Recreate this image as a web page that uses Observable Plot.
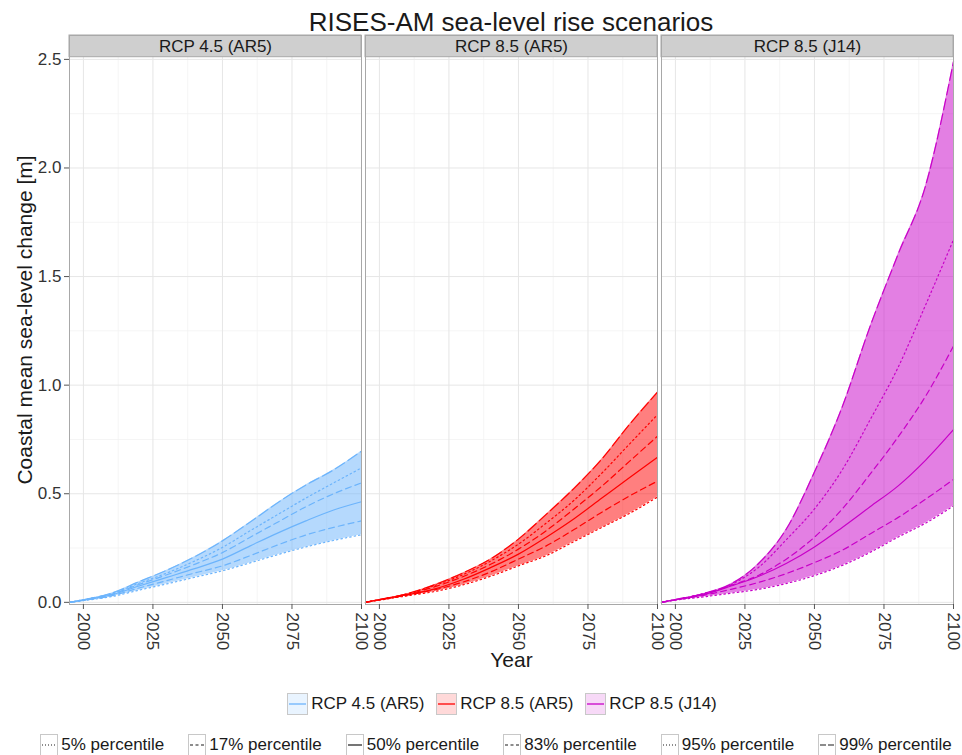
<!DOCTYPE html>
<html><head><meta charset="utf-8">
<script src="https://cdn.jsdelivr.net/npm/d3@7"></script>
<script src="https://cdn.jsdelivr.net/npm/@observablehq/plot@0.6"></script>
<style>
html,body{margin:0;padding:0;background:#fff;}
body{font-family:"Liberation Sans",Arial,Helvetica,sans-serif;width:962px;height:755px;overflow:hidden;color:#1a1a1a;}
#title{height:30px;box-sizing:border-box;padding-top:9px;padding-left:60px;text-align:center;font-size:26px;line-height:26px;white-space:nowrap;overflow:visible;}
#chart{height:655px;}
.legend{display:flex;justify-content:center;align-items:center;box-sizing:border-box;width:962px;white-space:nowrap;font-size:17px;}
#leg1{margin-top:8px;padding-left:42px;gap:12px;height:22px;}
#leg2{margin-top:19px;padding-left:30px;gap:24px;height:22px;}
.item{display:flex;align-items:center;flex:none;}
.item svg{margin-right:3px;display:block;}
</style></head><body>
<div id="title"></div>
<div id="chart"></div>
<div id="leg1" class="legend"></div>
<div id="leg2" class="legend"></div>
<script>
// ---------- data ----------
const titleText = "RISES-AM sea-level rise scenarios";
const yLabel = "Coastal mean sea-level change [m]";
const xLabel = "Year";
const scenarios = ["RCP 4.5 (AR5)", "RCP 8.5 (AR5)", "RCP 8.5 (J14)"];
const percentiles = ["5%", "17%", "50%", "83%", "95%", "99%"];
const years = [1995, 2000, 2010, 2020, 2030, 2040, 2050, 2060, 2070, 2080, 2090, 2100];
const xTicks = [2000, 2025, 2050, 2075, 2100];
const xMinor = [2012.5, 2037.5, 2062.5, 2087.5];
const yTicks = [0, 0.5, 1.0, 1.5, 2.0, 2.5];
const yMinor = [0.25, 0.75, 1.25, 1.75, 2.25];

// sea-level change [m] per percentile (rows: 5,17,50,83,95,99%)
const rcp45AR5 = [
  [0, 0.008, 0.026, 0.056, 0.085, 0.115, 0.145, 0.182, 0.220, 0.255, 0.285, 0.311],
  [0, 0.009, 0.030, 0.066, 0.100, 0.135, 0.168, 0.215, 0.265, 0.310, 0.345, 0.375],
  [0, 0.010, 0.034, 0.075, 0.115, 0.155, 0.199, 0.260, 0.320, 0.375, 0.425, 0.463],
  [0, 0.011, 0.037, 0.082, 0.127, 0.175, 0.229, 0.300, 0.370, 0.440, 0.500, 0.550],
  [0, 0.012, 0.040, 0.088, 0.135, 0.190, 0.253, 0.330, 0.405, 0.480, 0.550, 0.619],
  [0, 0.012, 0.042, 0.095, 0.148, 0.210, 0.283, 0.370, 0.460, 0.540, 0.610, 0.696]
];
const rcp85AR5 = [
  [0, 0.010, 0.030, 0.050, 0.080, 0.120, 0.168, 0.215, 0.280, 0.345, 0.410, 0.485],
  [0, 0.011, 0.033, 0.058, 0.093, 0.140, 0.199, 0.260, 0.335, 0.415, 0.490, 0.558],
  [0, 0.012, 0.035, 0.062, 0.105, 0.160, 0.222, 0.300, 0.385, 0.480, 0.575, 0.668],
  [0, 0.012, 0.037, 0.072, 0.118, 0.175, 0.245, 0.330, 0.430, 0.535, 0.650, 0.765],
  [0, 0.013, 0.039, 0.078, 0.127, 0.190, 0.268, 0.365, 0.470, 0.595, 0.730, 0.864],
  [0, 0.013, 0.040, 0.082, 0.135, 0.200, 0.291, 0.405, 0.525, 0.660, 0.820, 0.968]
];
const rcp85J14 = [
  [0, 0.010, 0.025, 0.042, 0.060, 0.087, 0.123, 0.170, 0.230, 0.300, 0.365, 0.444],
  [0, 0.011, 0.032, 0.060, 0.092, 0.133, 0.183, 0.240, 0.315, 0.390, 0.475, 0.566],
  [0, 0.012, 0.035, 0.075, 0.120, 0.180, 0.255, 0.345, 0.440, 0.535, 0.655, 0.795],
  [0, 0.012, 0.038, 0.078, 0.125, 0.200, 0.300, 0.430, 0.590, 0.760, 0.950, 1.180],
  [0, 0.013, 0.040, 0.082, 0.162, 0.290, 0.430, 0.610, 0.840, 1.080, 1.370, 1.670],
  [0, 0.013, 0.040, 0.085, 0.180, 0.340, 0.600, 0.900, 1.270, 1.600, 1.920, 2.490]
];

// ---------- styles ----------
const lineColors = ["#6cb4fc", "#ff0000", "#c800c8"];
const dashes = {"5%": "1.5,3", "17%": "6,4", "50%": null, "83%": "6,4", "95%": "1.5,3", "99%": "11,4"};
const keyDashes = {"5%": "1,2", "17%": "3,2.5", "50%": null, "83%": "3,2.5", "95%": "1,2", "99%": "6,2"};
const font = '"Liberation Sans", Arial, Helvetica, sans-serif';

// ---------- tidy tables ----------
const series = [rcp45AR5, rcp85AR5, rcp85J14];
const rows = [];
const bands = [];
series.forEach((s, i) => {
  s.forEach((arr, j) => arr.forEach((v, k) => rows.push({panel: scenarios[i], pct: percentiles[j], year: years[k], value: v})));
  years.forEach((y, k) => bands.push({panel: scenarios[i], year: y, lo: s[0][k], hi: s[5][k]}));
});

document.getElementById("title").textContent = titleText;

const yLo = -0.01, yTop = 2.51, yStrip = 2.61;
const x0 = years[0], x1 = years[years.length - 1];

const chart = Plot.plot({
  width: 962, height: 655,
  marginLeft: 69, marginRight: 9, marginTop: 5, marginBottom: 81,
  style: {fontFamily: font, background: "white", overflow: "visible", color: "#1a1a1a"},
  fx: {domain: scenarios, paddingInner: 0.0152, paddingOuter: 0, axis: null, label: null},
  x: {domain: [x0, x1]},
  y: {domain: [yLo, yStrip]},
  color: {domain: scenarios, range: lineColors},
  marks: [
    Plot.ruleX(xMinor, {x: d => d, y1: yLo, y2: yTop, stroke: "#f3f3f3", strokeWidth: 0.8}),
    Plot.ruleY(yMinor, {y: d => d, x1: x0, x2: x1, stroke: "#f3f3f3", strokeWidth: 0.8}),
    Plot.ruleX(xTicks, {x: d => d, y1: yLo, y2: yTop, stroke: "#e6e6e6", strokeWidth: 1}),
    Plot.ruleY(yTicks, {y: d => d, x1: x0, x2: x1, stroke: "#e6e6e6", strokeWidth: 1}),
    Plot.areaY(bands, {fx: "panel", x: "year", y1: "lo", y2: "hi", fill: "panel", fillOpacity: 0.5, curve: "monotone-x"}),
    ...percentiles.map(p => Plot.line(rows.filter(r => r.pct === p), {
      fx: "panel", x: "year", y: "value", z: "panel", stroke: "panel",
      strokeWidth: 1.2, strokeDasharray: dashes[p], curve: "monotone-x"
    })),
    Plot.rect(scenarios, {fx: d => d, x1: x0, x2: x1, y1: yTop, y2: yStrip, fill: "#cfcfcf", stroke: "#a8a8a8"}),
    Plot.text(scenarios, {fx: d => d, x: (x0 + x1) / 2, y: (yTop + yStrip) / 2, text: d => d, fontSize: 17, fill: "#1a1a1a"}),
    Plot.frame({stroke: "#a8a8a8"}),
    Plot.axisX({ticks: xTicks, tickFormat: d => String(d), tickRotate: 90, tickSize: 5, tickPadding: 3,
      fontSize: 17, label: null, stroke: "#555", fill: "#333"}),
    Plot.axisY({ticks: yTicks, tickFormat: d3.format(".1f"), tickSize: 5, tickPadding: 3,
      fontSize: 17, label: null, stroke: "#555", fill: "#333"}),
    Plot.text([yLabel], {fx: () => scenarios[0], frameAnchor: "left", textAnchor: "middle", dx: -44, rotate: -90,
      text: d => d, fontSize: 21, fill: "#1a1a1a"}),
    Plot.text([xLabel], {fx: () => scenarios[1], frameAnchor: "bottom", dy: 62, text: d => d, fontSize: 21, fill: "#1a1a1a"})
  ]
});
document.getElementById("chart").appendChild(chart);

// ---------- legends ----------
const leg1 = d3.select("#leg1");
scenarios.forEach((s, i) => {
  const it = leg1.append("div").attr("class", "item");
  const svg = it.append("svg").attr("width", 21).attr("height", 22);
  svg.append("rect").attr("x", 0.5).attr("y", 0.5).attr("width", 20).attr("height", 21)
    .attr("fill", lineColors[i]).attr("fill-opacity", 0.15).attr("stroke", "#c8c8c8");
  svg.append("line").attr("x1", 2).attr("x2", 19).attr("y1", 11).attr("y2", 11)
    .attr("stroke", lineColors[i]).attr("stroke-width", 1.3);
  it.append("span").text(s);
});
const leg2 = d3.select("#leg2");
percentiles.forEach(p => {
  const it = leg2.append("div").attr("class", "item");
  const svg = it.append("svg").attr("width", 18).attr("height", 22);
  svg.append("rect").attr("x", 0.5).attr("y", 0.5).attr("width", 17).attr("height", 21)
    .attr("fill", "#fff").attr("stroke", "#c8c8c8");
  svg.append("line").attr("x1", 2).attr("x2", 16).attr("y1", 11).attr("y2", 11)
    .attr("stroke", "#1a1a1a").attr("stroke-width", 1.2)
    .attr("stroke-dasharray", keyDashes[p]);
  it.append("span").text(p + " percentile");
});
</script>
</body></html>
